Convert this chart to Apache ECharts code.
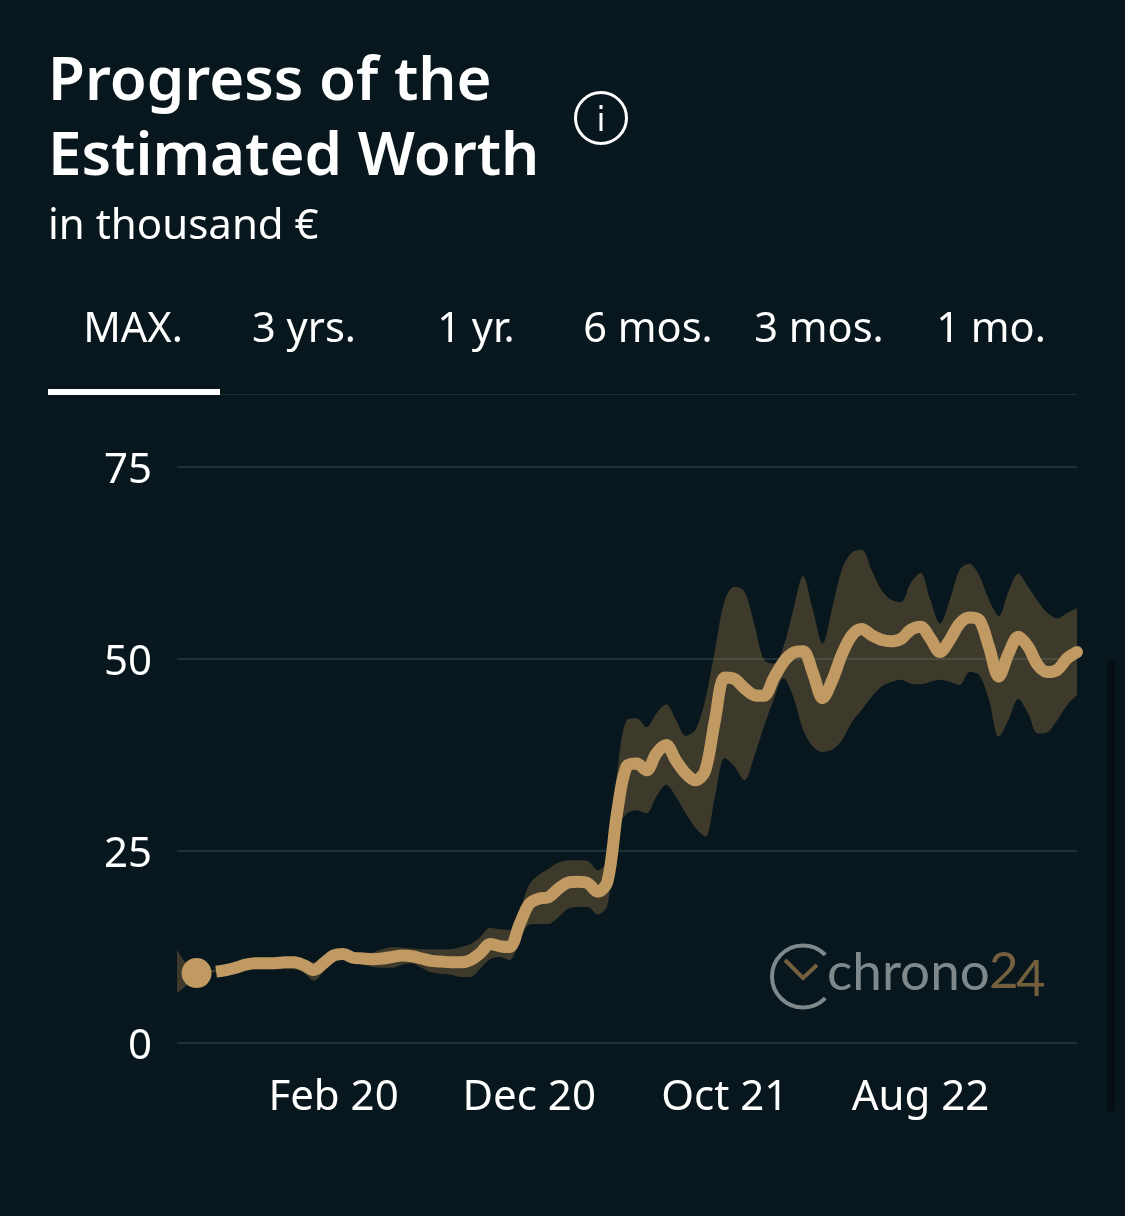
<!DOCTYPE html>
<html>
<head>
<meta charset="utf-8">
<style>
  html, body { margin: 0; padding: 0; background: #07171d; }
  #main { width: 1125px; height: 1216px; }
</style>
<script src="https://cdn.jsdelivr.net/npm/echarts@6/dist/echarts.min.js"></script>
</head>
<body>
<div id="main"></div>
<script>
const months = [
  'Jun 19', 'Jul 19', 'Aug 19', 'Sep 19', 'Oct 19', 'Nov 19', 'Dec 19',
  'Jan 20', 'Feb 20', 'Mar 20', 'Apr 20', 'May 20', 'Jun 20', 'Jul 20', 'Aug 20', 'Sep 20', 'Oct 20', 'Nov 20', 'Dec 20',
  'Jan 21', 'Feb 21', 'Mar 21', 'Apr 21', 'May 21', 'Jun 21', 'Jul 21', 'Aug 21', 'Sep 21', 'Oct 21', 'Nov 21', 'Dec 21',
  'Jan 22', 'Feb 22', 'Mar 22', 'Apr 22', 'May 22', 'Jun 22', 'Jul 22', 'Aug 22', 'Sep 22', 'Oct 22', 'Nov 22', 'Dec 22',
  'Jan 23', 'Feb 23', 'Mar 23', 'Apr 23'
];
const halfMonths = months.flatMap((m, i) => (i < months.length - 1 ? [m, m + ' mid'] : [m]));
const shownMonths = ['Feb 20', 'Dec 20', 'Oct 21', 'Aug 22'];
const tabs = ['MAX.', '3 yrs.', '1 yr.', '6 mos.', '3 mos.', '1 mo.'];

const firstMonth = 'Jul 19';
const firstValue = 9.1;
const worth = [
  null, null, null, null,
  9.3, 9.5, 9.8, 10.2, 10.4, 10.4, 10.4, 10.5, 10.5, 10.1, 9.5, 10.4, 11.4, 11.6, 11.1, 11.0,
  10.9, 11.0, 11.2, 11.4, 11.3, 11.0, 10.7, 10.6, 10.5, 10.5, 10.8, 11.7, 12.9, 12.6, 12.5, 15.4,
  18.1, 18.8, 19.0, 20.1, 20.9, 21.0, 20.8, 19.7, 21.0, 30.1, 36.1, 36.4, 35.5, 37.7, 38.8, 36.8,
  35.1, 34.2, 35.5, 42.1, 47.6, 47.4, 46.2, 45.3, 45.2, 47.5, 49.6, 50.8, 51.0, 48.2, 44.9, 47.3,
  50.7, 53.1, 53.9, 53.1, 52.5, 52.3, 52.6, 53.8, 54.2, 52.7, 50.9, 52.5, 54.6, 55.4, 55.1, 51.6,
  47.7, 50.7, 52.9, 51.6, 49.2, 48.3, 48.6, 50.1, 50.9
];
const bandHigh = [
  12.1, 10.3, 9.5, 9.4, 9.6, 9.8, 10.3, 10.8, 11.1, 11.1, 11.1, 11.1, 11.2, 10.9, 10.5, 11.1,
  12.0, 12.2, 11.7, 11.6, 11.8, 12.2, 12.5, 12.4, 12.3, 12.2, 12.2, 12.2, 12.2, 12.5, 12.9, 13.8,
  15.0, 14.8, 14.7, 17.1, 20.6, 21.9, 22.7, 23.5, 23.8, 23.8, 23.7, 22.5, 23.8, 35.3, 42.1, 42.3,
  41.1, 42.9, 44.1, 42.1, 40.0, 40.8, 44.7, 51.2, 57.7, 59.4, 58.8, 54.6, 49.9, 49.4, 51.6, 56.4,
  60.8, 56.4, 52.0, 56.8, 61.8, 63.9, 64.2, 61.6, 59.0, 57.7, 57.4, 59.9, 61.2, 57.7, 54.6, 57.7,
  61.6, 62.4, 60.9, 57.7, 55.6, 58.8, 61.1, 59.4, 57.5, 56.0, 55.3, 56.0, 56.6
];
const bandLow = [
  6.5, 7.6, 9.1, 9.3, 9.2, 9.3, 9.5, 9.6, 9.6, 9.6, 9.6, 9.6, 9.6, 9.1, 8.1, 9.3,
  10.8, 10.8, 10.5, 10.2, 9.9, 9.8, 9.8, 10.2, 10.4, 9.8, 9.2, 9.0, 8.9, 8.6, 8.6, 9.7,
  10.9, 11.2, 10.8, 13.2, 15.4, 15.5, 15.5, 16.4, 17.5, 17.7, 17.7, 16.7, 18.0, 27.7, 29.9, 30.3,
  29.9, 32.1, 33.6, 32.1, 29.9, 28.0, 26.9, 32.1, 37.1, 36.0, 34.2, 37.3, 41.2, 44.7, 47.5, 45.1,
  40.8, 38.6, 37.9, 38.2, 39.5, 41.8, 43.4, 45.1, 46.4, 47.0, 47.3, 46.8, 46.7, 47.0, 47.3, 47.0,
  46.6, 48.3, 47.9, 44.7, 39.9, 42.1, 44.8, 42.9, 40.3, 40.5, 42.1, 44.0, 45.3
];
const bandSpan = bandHigh.map((v, i) => +(v - bandLow[i]).toFixed(1));

const BG = '#07171d';
const GOLD = '#c09a62';
const LOGO_GREY = '#7f898c';
const LOGO_BROWN = '#74603f';
const FONT = '"Noto Sans", sans-serif';

const chart = echarts.init(document.getElementById('main'), null, { renderer: 'canvas' });

const tabCenters = [133, 304, 476, 648, 819, 991];
const graphic = [
  { type: 'text', left: 48, top: 53, style: { text: 'Progress of the', fill: '#fff', font: '600 60px ' + FONT } },
  { type: 'text', left: 48, top: 128, style: { text: 'Estimated Worth', fill: '#fff', font: '600 60px ' + FONT } },
  { type: 'text', left: 48, top: 206, style: { text: 'in thousand €', fill: '#fff', font: '400 42px ' + FONT } },
  { type: 'circle', shape: { cx: 601, cy: 118, r: 25.5 }, style: { fill: 'none', stroke: '#fff', lineWidth: 3 } },
  { type: 'rect', shape: { x: 599.5, y: 113, width: 3, height: 18 }, style: { fill: '#fff' } },
  { type: 'rect', shape: { x: 599.5, y: 105, width: 3, height: 4 }, style: { fill: '#fff' } },
  { type: 'rect', shape: { x: 48, y: 394, width: 1029, height: 1 }, style: { fill: '#1c2e34' } },
  { type: 'rect', shape: { x: 48, y: 389, width: 172, height: 6 }, style: { fill: '#fff' } },
  { type: 'rect', shape: { x: 1107, y: 660, width: 8, height: 452, r: 4 }, style: { fill: '#050f13' } },
  // logo
  { type: 'arc', shape: { cx: 803, cy: 976.5, r: 31, startAngle: 0.77, endAngle: -0.77, clockwise: true }, style: { fill: 'none', stroke: LOGO_GREY, lineWidth: 4 }, z: 1 },
  { type: 'polyline', shape: { points: [[785, 960], [803, 978], [817, 965]] }, style: { fill: 'none', stroke: LOGO_BROWN, lineWidth: 4 }, z: 1 },
  { type: 'text', left: 827, top: 946, style: { text: 'chrono', fill: LOGO_GREY, font: '400 53px Lato, ' + FONT }, z: 1 },
  { type: 'text', left: 989, top: 946, style: { text: '2', fill: LOGO_BROWN, font: '400 51px Lato, ' + FONT }, z: 1 },
  { type: 'text', left: 1016, top: 954, style: { text: '4', fill: LOGO_BROWN, font: '400 51px Lato, ' + FONT }, z: 1 }
];
tabs.forEach((label, i) => {
  graphic.push({
    type: 'text', x: tabCenters[i], y: 330,
    style: { text: label, fill: '#fff', font: '400 41.5px ' + FONT, align: 'center', verticalAlign: 'middle' }
  });
});

chart.setOption({
  backgroundColor: BG,
  animation: false,
  graphic: graphic,
  grid: { left: 177, right: 48, top: 467, bottom: 173 },
  xAxis: {
    type: 'category',
    data: halfMonths,
    boundaryGap: false,
    axisLine: { show: false },
    axisTick: { show: false },
    axisLabel: {
      interval: (i, name) => shownMonths.includes(name),
      color: '#fff',
      fontSize: 42,
      fontFamily: FONT,
      margin: 34
    }
  },
  yAxis: {
    type: 'value',
    min: 0,
    max: 75,
    interval: 25,
    axisLine: { show: false },
    axisTick: { show: false },
    axisLabel: { color: '#fff', fontSize: 42, fontFamily: FONT, margin: 25, verticalAlign: 'top', lineHeight: 8 },
    splitLine: { lineStyle: { color: '#1f3238', width: 2 } }
  },
  series: [
    {
      type: 'line', stack: 'band', data: bandLow, smooth: 0.33, symbol: 'none',
      lineStyle: { width: 0 }, z: 2
    },
    {
      type: 'line', stack: 'band', data: bandSpan, smooth: 0.33, symbol: 'none',
      lineStyle: { width: 0 }, areaStyle: { color: 'rgba(201,152,87,0.28)', opacity: 1 }, z: 2
    },
    {
      type: 'line', data: worth, smooth: 0.33, symbol: 'none', clip: false,
      lineStyle: { color: GOLD, width: 12, cap: 'butt', join: 'round' }, z: 3
    },
    {
      type: 'scatter', clip: false, symbolSize: 30, z: 4, itemStyle: { color: GOLD, opacity: 1 },
      data: [[firstMonth, firstValue]]
    },
    {
      type: 'scatter', clip: false, symbolSize: 12, z: 4, itemStyle: { color: GOLD, opacity: 1 },
      data: [[halfMonths[halfMonths.length - 1], worth[worth.length - 1]]]
    }
  ]
});
</script>
</body>
</html>
